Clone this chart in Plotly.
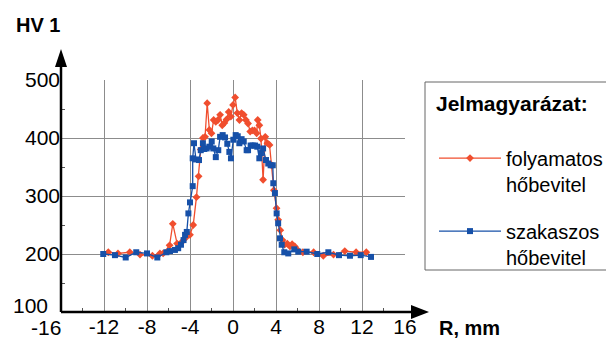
import plotly.graph_objects as go

# folyamatos hőbevitel (orange, diamonds)
r_foly = [-11.6, -10.7, -9.6, -8.65, -7.5, -6.8, -6.5, -5.9, -5.6, -5.2, -4.8, -4.4, -4.0, -3.7,
          -3.4, -3.2, -3.0, -2.8, -2.6, -2.4, -2.2, -2.0, -1.8, -1.6, -1.4, -1.2, -1.0, -0.8,
          -0.6, -0.4, -0.2, 0.0, 0.2, 0.4, 0.6, 0.8, 1.0, 1.2, 1.4, 1.6, 1.8, 2.0, 2.2, 2.3,
          2.45, 2.6, 2.8, 3.0, 3.2, 3.4, 3.6, 3.8, 4.05, 4.2, 4.4, 4.6, 4.8, 5.05, 5.3, 5.5,
          5.75, 6.05, 6.5, 7.5, 8.4, 9.35, 10.4, 11.45, 12.4]
hv_foly = [203, 201, 203, 199, 197, 201, 201, 215, 252, 218, 220, 228, 233, 250,
           298, 334, 380, 400, 402, 460, 414, 408, 431, 428, 431, 440, 422, 426,
           432, 445, 437, 457, 470, 443, 431, 443, 440, 431, 425, 411, 413, 413, 408, 431,
           422, 399, 328, 402, 391, 388, 353, 310, 279, 259, 241, 224, 216, 218, 213, 217,
           213, 206, 203, 203, 197, 199, 205, 203, 203]

# szakaszos hőbevitel (blue, squares)
r_szak = [-12.07, -10.98, -9.98, -9.0, -8.0, -7.04, -6.2, -5.86, -5.4, -5.1, -4.84, -4.6, -4.46,
          -4.3, -4.15, -4.0, -3.75, -3.75, -3.63, -3.44, -3.16, -3.0, -2.8, -2.67, -2.45, -2.2,
          -1.98, -1.83, -1.6, -1.37, -1.2, -0.96, -0.74, -0.53, -0.34, -0.19, 0.03, 0.25, 0.44,
          0.59, 0.8, 1.0, 1.27, 1.4, 1.64, 1.83, 2.05, 2.26, 2.45, 2.6, 2.8, 3.07, 3.28, 3.5,
          3.7, 3.75, 3.9, 4.06, 4.2, 4.37, 4.53, 4.77, 5.14, 5.7, 6.07, 6.85, 7.84, 8.87, 9.86,
          10.88, 11.88, 12.84]
hv_szak = [200, 198, 194, 203, 201, 194, 203, 205, 207, 210, 216, 224, 233,
           238, 270, 289, 317, 365, 391, 363, 362, 379, 391, 381, 382, 385,
           394, 382, 367, 379, 402, 405, 401, 390, 376, 365, 397, 405, 403,
           391, 398, 394, 379, 379, 387, 387, 387, 385, 365, 374, 382, 362, 356, 353,
           353, 322, 305, 270, 253, 227, 216, 203, 201, 208, 204, 204, 200, 203, 198,
           197, 198, 195]

x_ticks = [-12, -8, -4, 0, 4, 8, 12, 16]
y_ticks = [200, 300, 400, 500]

FONT = "Liberation Sans, Arial, sans-serif"
ORANGE = "#f04e2e"
BLUE = "#1650a8"

fig = go.Figure()
fig.add_trace(go.Scatter(
    x=r_foly, y=hv_foly, mode="lines+markers",
    name="folyamatos<br>hőbevitel", legendgroup="a",
    line=dict(color=ORANGE, width=1.3),
    marker=dict(symbol="diamond", size=6, color=ORANGE),
    cliponaxis=False
))
fig.add_trace(go.Scatter(
    x=r_szak, y=hv_szak, mode="lines+markers",
    name="szakaszos<br>hőbevitel", legendgroup="b",
    line=dict(color=BLUE, width=1.3),
    marker=dict(symbol="square", size=6, color=BLUE),
    cliponaxis=False
))

# axis geometry in paper units (plot area 344 x 232 px)
W, H = 344.0, 232.0
shapes = [
    # legend frame
    dict(type="rect", xref="paper", yref="paper",
         x0=(425 - 61) / W, x1=(620 - 61) / W, y0=(312 - 270) / H, y1=(312 - 82) / H,
         line=dict(color="#666", width=1), fillcolor="white", layer="below"),
    # x axis line + arrow
    dict(type="line", xref="paper", yref="paper", x0=0, x1=(414 - 61) / W, y0=0, y1=0,
         line=dict(color="black", width=2.5)),
    dict(type="path", xref="paper", yref="paper",
         path=f"M {(429-61)/W} 0 L {(411-61)/W} {7/H} L {(411-61)/W} {-7/H} Z",
         fillcolor="black", line=dict(width=0)),
    # y axis line + arrow
    dict(type="line", xref="paper", yref="paper", x0=0, x1=0, y0=0, y1=(312 - 64) / H,
         line=dict(color="black", width=2.5)),
    dict(type="path", xref="paper", yref="paper",
         path=f"M 0 {(312-49)/H} L {-6/W} {(312-67)/H} L {6/W} {(312-67)/H} Z",
         fillcolor="black", line=dict(width=0)),
]

annotations = [
    dict(text="<b>HV 1</b>", xref="paper", yref="paper", x=(14 - 61) / W, y=(312 - 25) / H,
         xanchor="left", yanchor="middle", showarrow=False, font=dict(size=20, color="black")),
    dict(text="<b>R, mm</b>", xref="paper", yref="paper", x=(437 - 61) / W, y=(312 - 328) / H,
         xanchor="left", yanchor="middle", showarrow=False, font=dict(size=20, color="black")),
    dict(text="-16", xref="paper", yref="paper", x=(46 - 61) / W, y=(312 - 327) / H,
         xanchor="center", yanchor="middle", showarrow=False, font=dict(size=21, color="black")),
    dict(text="100", xref="paper", yref="paper", x=(50 - 61) / W, y=(312 - 305) / H,
         xanchor="right", yanchor="middle", showarrow=False, font=dict(size=21, color="black")),
]

fig.update_layout(
    width=606, height=340,
    margin=dict(l=61, r=201, t=80, b=28, autoexpand=False),
    plot_bgcolor="white", paper_bgcolor="white",
    font=dict(family=FONT, size=21, color="black"),
    showlegend=True,
    legend=dict(
        x=(434 - 61) / W, y=(312 - 84) / H, xanchor="left", yanchor="top",
        bgcolor="rgba(0,0,0,0)", borderwidth=0,
        title=dict(text="<b>Jelmagyarázat:</b><br><span style='font-size:15px'> </span>",
                   font=dict(size=21)),
        font=dict(size=20), traceorder="grouped", tracegroupgap=18,
        valign="top", itemwidth=62
    ),
    shapes=shapes,
    annotations=annotations,
    xaxis=dict(range=[-16, 16], tickvals=x_ticks, ticktext=[str(v) for v in x_ticks],
               showgrid=True, gridcolor="#8c8c8c", gridwidth=1.3, zeroline=False,
               showline=False, ticks="", tickfont=dict(size=21),
               minor=dict(tickvals=[-14, -10, -6, -2, 2, 6, 10, 14], ticks="inside",
                          ticklen=4, tickcolor="#555", showgrid=False)),
    yaxis=dict(range=[100, 500], tickvals=y_ticks, ticktext=[str(v) for v in y_ticks],
               showgrid=True, gridcolor="#8c8c8c", gridwidth=1.3, zeroline=False,
               showline=False, ticks="", tickfont=dict(size=21),
               minor=dict(tickvals=[150, 250, 350, 450], ticks="inside",
                          ticklen=4, tickcolor="#555", showgrid=False)),
)

fig.write_html("out.html", config={"displayModeBar": False},
               post_script="document.body.style.margin = '0px';")
